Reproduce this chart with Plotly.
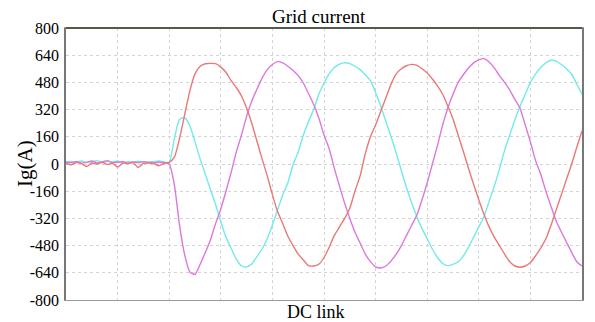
import plotly.graph_objects as go

# time axis (10 divisions, unlabeled), sampled every 0.1 division
time = [round(i * 0.1, 1) for i in range(101)]

phase_a = [5, -5, 8, 2, -15, 6, 0, 10, -3, 4, -18, 5, 3, 8, -20, 4, 6, 2, -10, 3,
           10, 40, 150, 290, 430, 530, 575, 590, 592, 590,
           570, 540, 490, 450, 400, 330, 240, 135, 30, -70,
           -180, -280, -350, -425, -480, -530, -565, -598, -600, -590,
           -550, -490, -420, -370, -320, -260, -160, -70, 60, 160,
           230, 310, 390, 470, 530, 560, 578, 586, 580, 560,
           535, 500, 460, 410, 340, 265, 170, 75, -25, -120,
           -210, -295, -370, -430, -480, -530, -575, -600, -607, -600,
           -580, -540, -495, -440, -360, -270, -180, -90, 0, 100,
           195]

phase_b = [12, 8, 15, 5, 10, 18, 6, 12, 20, 8, 10, 15, 5, 12, 8, 14, 10, 6, 12, 8,
           0, -123, -360, -535, -635, -650, -590, -520, -445, -350,
           -265, -160, -50, 70, 170, 280, 370, 440, 505, 555,
           585, 602, 595, 575, 550, 520, 475, 415, 350, 270,
           170, 90, -25, -130, -230, -320, -400, -465, -530, -574,
           -605, -612, -600, -570, -530, -480, -420, -360, -300, -210,
           -110, 0, 110, 230, 330, 410, 480, 525, 565, 595,
           612, 620, 600, 565, 520, 480, 435, 380, 327, 230,
           130, 20, -60, -160, -250, -335, -400, -460, -520, -575,
           -600]

phase_c = [10, 15, 12, 18, 8, 14, 20, 10, 16, 12, 18, 8, 14, 10, 16, 12, 10, 14, 18, 12,
           10, 150, 262, 272, 225, 130, 30, -60, -150, -240,
           -340, -430, -496, -560, -600, -605, -588, -545, -500, -440,
           -359, -270, -182, -110, -5, 70, 170, 250, 320, 410,
           475, 530, 568, 588, 596, 590, 575, 555, 525, 490,
           420, 340, 250, 160, 65, -40, -140, -230, -310, -380,
           -440, -500, -550, -585, -598, -590, -575, -540, -490, -430,
           -370, -310, -220, -130, -30, 80, 170, 260, 340, 410,
           480, 530, 568, 595, 610, 605, 585, 560, 528, 470,
           410]

y_ticks = [800, 640, 480, 320, 160, 0, -160, -320, -480, -640, -800]

fig = go.Figure()
for vals, col in [(phase_c, "#72EAEA"), (phase_b, "#DC78DC"), (phase_a, "#E97878")]:
    fig.add_trace(go.Scatter(x=time, y=vals, mode="lines",
                             line=dict(color=col, width=1.4, shape="spline", smoothing=0.6),
                             showlegend=False, hoverinfo="skip"))

font_family = "Liberation Serif"

fig.update_layout(
    width=595, height=322,
    margin=dict(l=66, r=11, t=28, b=22),
    paper_bgcolor="white", plot_bgcolor="white",
    font=dict(family=font_family, color="black"),
    xaxis=dict(range=[0, 10], dtick=1, tick0=0, showticklabels=False, ticks="",
               showgrid=True, gridcolor="#d4d4d4", griddash="dot", gridwidth=1,
               showline=True, linecolor="#999999", linewidth=1.2, mirror=True,
               zeroline=False),
    yaxis=dict(range=[-800, 800], tickvals=y_ticks, ticktext=[str(v) for v in y_ticks],
               ticks="", tickfont=dict(size=16, family=font_family, color="black"),
               ticklabelstandoff=2,
               showgrid=True, gridcolor="#d4d4d4", griddash="dot", gridwidth=1,
               showline=True, linecolor="#777777", linewidth=1.5, mirror=True,
               zeroline=False),
    shapes=[dict(type="line", xref="paper", yref="paper", x0=0, x1=1, y0=1, y1=1,
                 line=dict(color="#55584a", width=2))],
    annotations=[
        dict(text="Grid current", xref="paper", yref="paper", x=0.49, y=1.0,
             yanchor="bottom", xanchor="center", showarrow=False, yshift=-1,
             font=dict(size=19, family=font_family)),
        dict(text="DC link", xref="paper", yref="paper", x=0.485, y=0,
             yanchor="top", xanchor="center", showarrow=False, yshift=0,
             font=dict(size=18, family=font_family)),
        dict(text="Ig(A)", xref="paper", yref="paper", x=0, y=0.5, xshift=-41,
             textangle=-90, xanchor="center", yanchor="middle", showarrow=False,
             font=dict(size=21, family=font_family)),
    ],
)

fig.write_html("out.html", config={"displayModeBar": False},
               post_script="document.body.style.margin='0';")
